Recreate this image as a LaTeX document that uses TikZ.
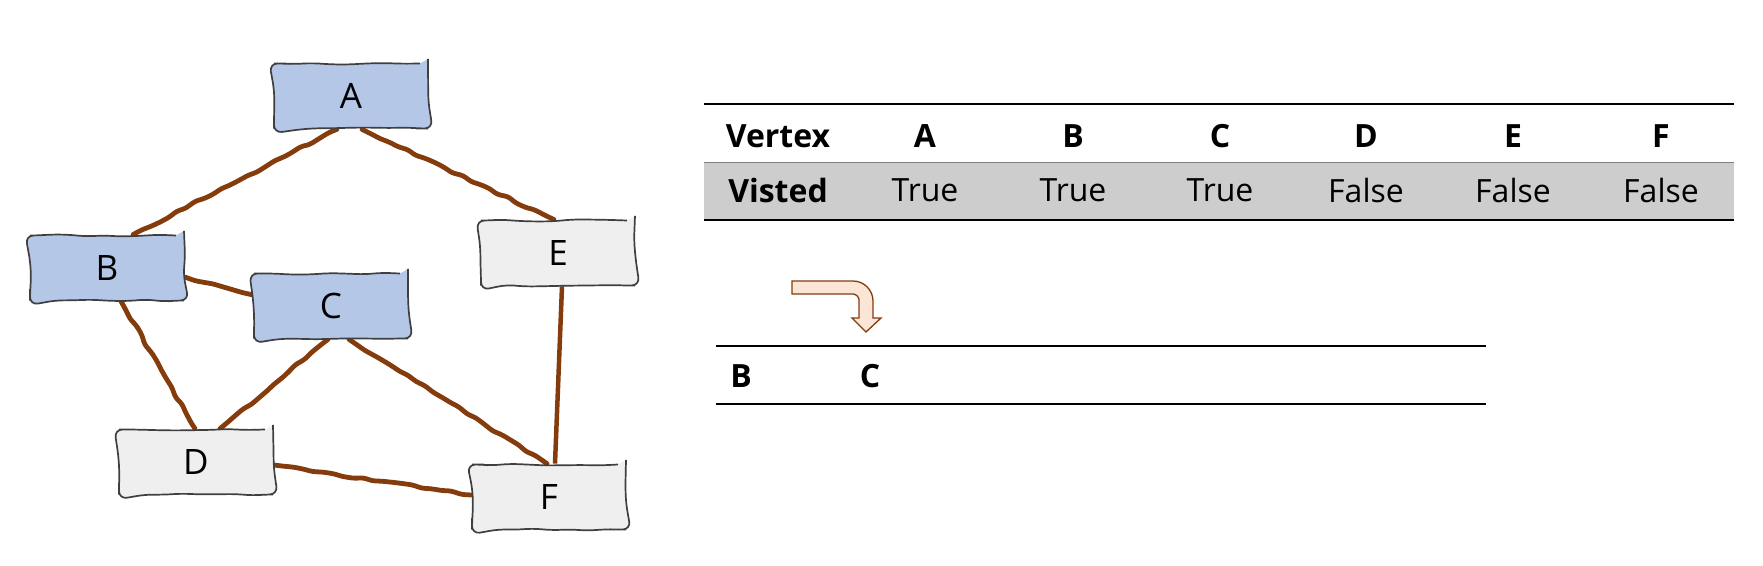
\documentclass[tikz,border=0pt]{standalone}
\usepackage{fontspec}
\setmainfont{Open Sans}
\usetikzlibrary{decorations.pathmorphing,backgrounds}
\definecolor{nodeblue}{HTML}{B4C7E7}
\definecolor{nodegray}{HTML}{EFEFEF}
\definecolor{sketchline}{HTML}{3F3F3F}
\definecolor{edgebrown}{HTML}{843C0C}
\definecolor{rowgray}{HTML}{CDCDCD}
\definecolor{arrowfill}{HTML}{FBE5D6}
\begin{document}
\pgfmathsetseed{7}
\begin{tikzpicture}[x=1pt,y=-1pt,
  sketchnode/.style={draw=sketchline, line width=1.7pt, minimum width=154pt, minimum height=65pt,
    inner sep=0pt, rounded corners=8pt, decorate,
    decoration={random steps, segment length=18pt, amplitude=1.1pt},
    font=\fontsize{35}{40}\selectfont},
  visited/.style={sketchnode, fill=nodeblue},
  unvisited/.style={sketchnode, fill=nodegray},
  edgeline/.style={draw=edgebrown, line width=4.8pt, line cap=round, rounded corners=3pt, decorate,
    decoration={random steps, segment length=10pt, amplitude=1.3pt}},
  tabhead/.style={font=\fontsize{32}{38}\selectfont\bfseries, inner sep=0pt},
  tabcell/.style={font=\fontsize{32}{38}\selectfont, inner sep=0pt},
  queuecell/.style={font=\fontsize{32}{38}\selectfont\bfseries, inner sep=0pt},
  rule/.style={draw=black, line width=2.3pt}
]
\useasboundingbox (0,0) rectangle (1763,565);

% graph nodes
\node[visited]   (A) at (351,96)  {A};
\node[visited]   (B) at (107,268) {B};
\node[visited]   (C) at (331,306) {C};
\node[unvisited] (E) at (558,253) {E};
\node[unvisited] (D) at (196,462) {D};
\node[unvisited] (F) at (549,497) {F};

% edges
\begin{pgfonlayer}{background}
\draw[edgeline] ([xshift=-14pt]A.south) -- ([xshift=26pt]B.north);
\draw[edgeline] ([xshift=11pt]A.south) -- ([xshift=-4pt]E.north);
\draw[edgeline] ([yshift=-9pt]B.east) -- ([yshift=11pt]C.west);
\draw[edgeline] ([xshift=14pt]B.south) -- ([xshift=-1pt]D.north);
\draw[edgeline] ([xshift=-3pt]C.south) -- ([xshift=24pt]D.north);
\draw[edgeline] ([xshift=18pt]C.south) -- ([xshift=-2pt]F.north);
\draw[draw=edgebrown, line width=4.5pt] ([xshift=4pt]E.south) -- ([xshift=6pt]F.north);
\draw[edgeline] ([yshift=-3pt]D.east) -- ([yshift=2pt]F.west);
\end{pgfonlayer}

% visited table
\fill[rowgray] (704,162) rectangle (1734,220);
\draw[draw=black, line width=2pt] (704,104) -- (1734,104);
\draw[draw=gray, line width=1pt] (704,162) -- (1734,162);
\draw[rule] (704,220) -- (1734,220);

\node[tabhead] (hV) at (778,136)  {Vertex};
\node[tabhead] (hA) at (925,136)  {A};
\node[tabhead] (hB) at (1073,136) {B};
\node[tabhead] (hC) at (1220,136) {C};
\node[tabhead] (hD) at (1366,136) {D};
\node[tabhead] (hE) at (1513,136) {E};
\node[tabhead] (hF) at (1661,136) {F};

\node[tabhead] (vV) at (778,190)  {Visted};
\node[tabcell] (vA) at (925,190)  {True};
\node[tabcell] (vB) at (1073,190) {True};
\node[tabcell] (vC) at (1220,190) {True};
\node[tabcell] (vD) at (1366,190) {False};
\node[tabcell] (vE) at (1513,190) {False};
\node[tabcell] (vF) at (1661,190) {False};

% queue
\draw[rule] (716,346) -- (1486,346);
\draw[rule] (716,404) -- (1486,404);
\node[queuecell] (qB) at (741,376) {B};
\node[queuecell] (qC) at (870,376) {C};

% bent arrow
\draw[draw=edgebrown, fill=arrowfill, line width=1.3pt, line join=miter]
  (792,281) -- (853,281) .. controls (864,281) and (873,290) .. (873,301)
  -- (873,318) -- (881,318) -- (866,332) -- (852,318) -- (859,318) -- (859,300)
  .. controls (859,297) and (856,294) .. (853,294) -- (792,294) -- cycle;
\end{tikzpicture}
\end{document}
